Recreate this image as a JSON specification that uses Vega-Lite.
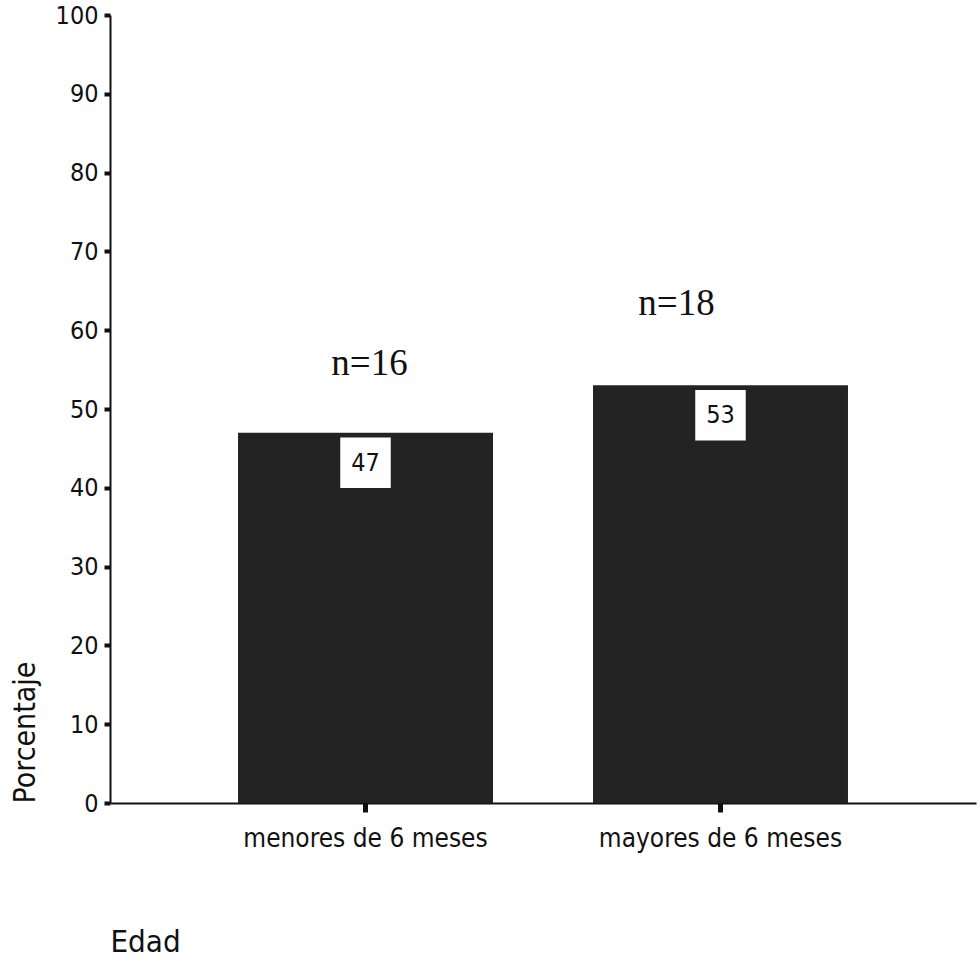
{
  "$schema": "https://vega.github.io/schema/vega-lite/v6.json",
  "width": 866,
  "height": 788,
  "autosize": {"type": "none"},
  "padding": {"left": 110, "top": 15, "right": 4, "bottom": 158},
  "background": "white",
  "config": {
    "view": {"stroke": null},
    "axis": {"grid": false, "domainColor": "#111", "tickColor": "#111", "labelColor": "#111", "titleColor": "#111", "labelFont": "DejaVu Sans Condensed, Liberation Sans", "titleFont": "DejaVu Sans Condensed, Liberation Sans", "titleFontWeight": "normal"}
  },
  "data": {
    "values": [
      {"edad": "menores de 6 meses", "pct": 47, "n": "n=16"},
      {"edad": "mayores de 6 meses", "pct": 53, "n": "n=18"}
    ]
  },
  "encoding": {
    "x": {
      "field": "edad", "type": "nominal", "sort": null,
      "scale": {"paddingInner": 0.2817, "paddingOuter": 0.3606},
      "axis": {
        "labelAngle": 0, "labelFontSize": 26, "labelPadding": 13, "labelLimit": 0,
        "domainWidth": 2, "tickSize": 9, "tickWidth": 5,
        "title": "Edad", "titleFontSize": 31, "titleX": 0, "titleY": 139,
        "titleAlign": "left", "titleBaseline": "middle", "titleAnchor": null
      }
    },
    "y": {
      "field": "pct", "type": "quantitative",
      "scale": {"domain": [0, 100]},
      "axis": {
        "values": [0, 10, 20, 30, 40, 50, 60, 70, 80, 90, 100],
        "labelFontSize": 25, "labelPadding": 6,
        "domainWidth": 2, "tickSize": 6, "tickWidth": 4,
        "title": "Porcentaje", "titleFontSize": 30, "titleAngle": 270,
        "titleX": -85, "titleY": 788, "titleAlign": "left", "titleBaseline": "middle", "titleAnchor": null
      }
    }
  },
  "layer": [
    {"mark": {"type": "bar", "color": "#232323"}},
    {"mark": {"type": "point", "shape": "square", "filled": true, "color": "white", "opacity": 1, "size": 2550, "yOffset": 30}},
    {"mark": {"type": "text", "font": "DejaVu Sans Condensed, Liberation Sans", "fontSize": 25, "color": "#111", "yOffset": 30, "baseline": "middle"},
     "encoding": {"text": {"field": "pct", "type": "quantitative"}}},
    {"transform": [{"filter": "datum.n == 'n=16'"}],
     "mark": {"type": "text", "font": "Liberation Serif", "fontSize": 37, "color": "#111", "yOffset": -69, "xOffset": 4, "baseline": "middle"},
     "encoding": {"text": {"field": "n", "type": "nominal"}}},
    {"transform": [{"filter": "datum.n == 'n=18'"}],
     "mark": {"type": "text", "font": "Liberation Serif", "fontSize": 37, "color": "#111", "yOffset": -81, "xOffset": -44, "baseline": "middle"},
     "encoding": {"text": {"field": "n", "type": "nominal"}}}
  ]
}
